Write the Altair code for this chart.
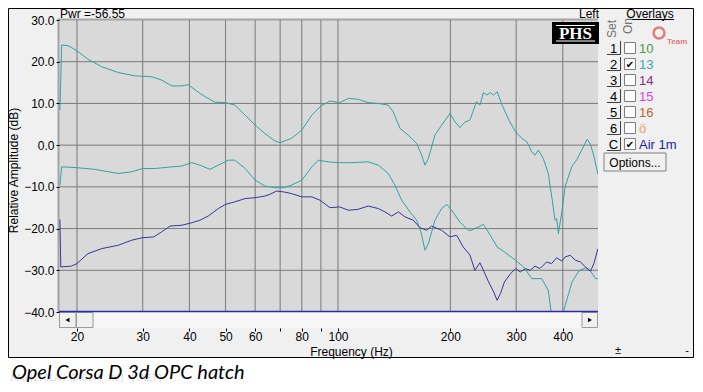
import altair as alt
import pandas as pd

# ---------------- data ----------------
A_FREQ = [18.0, 18.2, 19.0, 20.0, 21.4, 23.3, 25.8, 28.6, 31.7, 33.7, 35.9, 38.2, 39.7, 42.7, 44.1, 46.8,
          50.0, 52.9, 56.4, 60.0, 63.7, 67.8, 70.0, 75.0, 80.0, 85.1, 90.0, 95.2, 101, 106.6, 113, 120.5,
          128.2, 136.3, 140.6, 146.6, 154.3, 162.5, 167.5, 171, 174.6, 181.8, 189.5, 199.6, 205.8, 212,
          218.6, 225.5, 235, 240, 245.2, 250.5, 255.8, 261.3, 266.8, 275.2, 286.9, 298.9, 311.1, 320.6,
          330.4, 337, 344, 354.7, 365.8, 374.9, 381.3, 385.2, 389.3, 397.6, 406, 423.5, 436.8, 450.6,
          464.8, 474.5, 484.5, 496.8]
A_DB = [8.4, 24.0, 23.8, 22.6, 20.6, 18.8, 17.4, 16.6, 16.4, 15.6, 14.2, 14.2, 14.5, 12.4, 11.6, 10.3,
        10.2, 9.6, 7.2, 4.8, 2.8, 1.0, 0.6, 1.6, 3.6, 7.2, 9.4, 10.6, 10.2, 11.2, 11.0, 10.2,
        10.0, 9.6, 8.0, 4.0, 2.4, 0.4, -2.4, -4.8, -3.2, 2.4, 4.8, 7.6, 5.6, 4.2,
        5.5, 6.0, 10.4, 9.6, 12.6, 12.0, 12.6, 12.0, 12.8, 9.6, 6.0, 3.2, 1.6, 0.8,
        -1.6, -2.4, -1.2, -3.2, -6.8, -13.2, -18.0, -17.6, -21.2, -16.0, -9.8, -5.0, -3.4, -1.0,
        1.4, 0.2, -2.6, -7.0]

B_FREQ = [18.0, 18.2, 20.0, 22.3, 25.8, 28.0, 30.0, 32.4, 35.9, 38.2, 40.6, 42.7, 45.4, 47.8, 50.9,
          52.9, 56.4, 60.0, 63.7, 67.8, 71.4, 75.0, 80.0, 85.1, 88.6, 94.2, 101, 108.8, 120.5, 128.2,
          136.3, 142.1, 148.1, 155.9, 162.5, 166.8, 171, 174.6, 181.8, 189.5, 195.6, 201.6, 212, 223.2,
          227.8, 245.2, 255.8, 266.8, 279.1, 298.9, 314.3, 330.4, 351.1, 365.8, 371.8, 380, 392, 400.8,
          406, 423.5, 441.3, 460, 474.5, 489.6, 496.8]
B_DB = [-9.6, -5.2, -5.4, -5.8, -6.8, -6.4, -5.6, -5.6, -5.2, -5.0, -4.2, -4.8, -5.8, -4.8, -3.6,
        -3.6, -5.6, -8.4, -9.8, -10.2, -10.2, -9.6, -8.4, -5.2, -3.6, -4.0, -4.2, -4.2, -4.0, -4.8,
        -6.8, -9.6, -13.2, -16.0, -18.0, -20.8, -25.2, -23.6, -18.0, -15.2, -14.2, -15.6, -18.4, -20.4,
        -20.4, -19.0, -21.6, -24.4, -25.6, -27.6, -29.2, -32.0, -32.0, -34.8, -39.6, -44.0, -44.0, -40.2,
        -38.4, -32.8, -30.2, -29.4, -30.2, -32.0, -32.0]

C_FREQ = [18.0, 18.1, 19.3, 20.0, 21.4, 23.3, 25.8, 28.0, 29.9, 32.1, 33.7, 35.5, 38.2, 40.6, 42.7,
          44.9, 47.8, 50.0, 52.9, 56.4, 60.0, 63.7, 65.7, 68.5, 71.4, 75.0, 80.0, 85.1, 89.5, 95.2,
          101, 106.6, 113, 120.5, 128.2, 133.6, 139.2, 145.1, 151.2, 159.1, 165.9, 172.8, 178.1, 189.5,
          199.6, 207.9, 216.4, 225.5, 232.6, 240, 245.2, 253.1, 261.3, 266.8, 272.3, 279.1, 289.9, 298.9,
          308, 317.4, 327, 337, 347.5, 362.1, 373.2, 385.2, 397.6, 406, 419, 432.3, 446, 460, 474.5,
          484.5, 496.8]
C_DB = [-17.8, -29.2, -29.0, -28.4, -26.0, -24.8, -24.0, -22.8, -22.2, -22.0, -20.8, -19.4, -19.2, -18.6, -18.0,
        -17.0, -15.2, -14.2, -13.6, -12.8, -12.6, -12.2, -11.8, -11.0, -11.2, -11.6, -12.4, -12.4, -13.2, -15.0,
        -14.8, -15.6, -15.4, -14.6, -15.2, -16.0, -17.0, -16.0, -17.2, -18.0, -19.8, -20.4, -19.4, -20.4,
        -22.0, -21.6, -24.4, -26.3, -30.0, -28.2, -30.0, -32.8, -35.2, -37.2, -35.6, -32.8, -30.8, -29.6,
        -30.4, -29.6, -30.0, -29.0, -29.6, -28.0, -28.4, -27.0, -27.8, -26.8, -26.4, -27.6, -28.0, -29.2, -30.2,
        -28.4, -24.8]

X_TICKS = [20, 30, 40, 50, 60, 70, 80, 90, 100, 200, 300, 400]
X_DOMAIN = [17.9, 497]
Y_TICKS = [-40, -30, -20, -10, 0, 10, 20, 30]
Y_DOMAIN = [-40, 30]
Y_GRID = [-30, -20, -10, 0, 10, 20]

LEG_SET = ["1", "2", "3", "4", "5", "6", "C"]
LEG_NAME = ["10", "13", "14", "15", "16", "ö", "Air 1m"]
LEG_ON = [False, True, False, False, False, False, True]
LEG_COLOR = ["#4a9a4a", "#3aa6b0", "#8e2a8e", "#e040e0", "#b0692a", "#f09a6a", "#1c1ca6"]

PWR_TEXT = "Pwr =-56.55"
CHANNEL_TEXT = "Left"
OVERLAY_TITLE = "Overlays"
OPTIONS_TEXT = "Options..."
LOGO_TEXT = "PHS"
X_TITLE = "Frequency (Hz)"
Y_TITLE = "Relative Amplitude (dB)"
CAPTION = "Opel Corsa D 3d OPC hatch"
WATERMARK = "MAGNITOLAH.ORG] [.RU] [.NET]"

TEAL = "#2ea5a0"
BLUE = "#35359e"

# ---------------- layout ----------------
W, H = 539, 292
PAD = {"left": 51, "top": 12, "right": 96, "bottom": 71}
FONT = "Liberation Sans"
ONE = pd.DataFrame({"k": [0]})

xscale = alt.Scale(type="log", domain=X_DOMAIN, nice=False)
yscale = alt.Scale(domain=Y_DOMAIN, nice=False, zero=False)

xaxis = alt.Axis(values=X_TICKS, format="d",
                 labelExpr="datum.value == 70 || datum.value == 90 ? '' : datum.label",
                 offset=16, tickSize=3, labelPadding=0, domain=False, grid=False,
                 tickColor="black", labelColor="black", labelFont=FONT, labelFontSize=12,
                 labelFlush=False, labelOverlap=False, zindex=2,
                 title=X_TITLE, titleFont=FONT, titleFontSize=12, titleFontWeight="normal",
                 titleColor="black", titleX=292, titleY=23, titleAlign="center", titleBaseline="middle")
yaxis = alt.Axis(values=Y_TICKS, format=".1f", tickSize=3, labelPadding=2, domain=False, grid=False,
                 tickColor="black", labelColor="black", labelFont=FONT, labelFontSize=12,
                 labelFlush=False, labelOverlap=False, zindex=2,
                 title=Y_TITLE, titleFont=FONT, titleFontSize=12, titleFontWeight="normal",
                 titleColor="black", titleAngle=270, titleX=-46, titleY=150,
                 titleAlign="center", titleBaseline="middle")


def rect(x1, x2, y1, y2, fill, stroke=None, sw=1):
    kw = {"fill": fill}
    if stroke:
        kw.update(stroke=stroke, strokeWidth=sw)
    else:
        kw.update(strokeWidth=0)
    return alt.Chart(ONE).mark_rect(**kw).encode(
        x=alt.value(x1), x2=alt.value(x2), y=alt.value(y1), y2=alt.value(y2))


def hline(x1, x2, y, color, sw=1):
    return alt.Chart(ONE).mark_rule(color=color, strokeWidth=sw).encode(
        x=alt.value(x1), x2=alt.value(x2), y=alt.value(y))


def vline(x, y1, y2, color, sw=1):
    return alt.Chart(ONE).mark_rule(color=color, strokeWidth=sw).encode(
        x=alt.value(x), y=alt.value(y1), y2=alt.value(y2))


def txt(s, x, y, size=12, color="black", align="left", baseline="alphabetic", font=FONT, **kw):
    return alt.Chart(ONE).mark_text(text=s, font=font, fontSize=size, color=color, align=align,
                                    baseline=baseline, **kw).encode(x=alt.value(x), y=alt.value(y))


def curve(freqs, dbs, color):
    df = pd.DataFrame({"f": freqs, "db": dbs})
    return alt.Chart(df).mark_line(color=color, strokeWidth=1, clip=True).encode(
        x=alt.X("f:Q", scale=xscale, axis=xaxis),
        y=alt.Y("db:Q", scale=yscale, axis=yaxis))


layers = []
# window panel
layers.append(rect(-50.5, 634.5, -11.5, 337.5, "#f0f0f0", "black", 1))
# plot background and frame
layers.append(rect(0, W, 0, H, "#d9d9d9"))
layers.append(rect(-1, W, -1.5, 0.5, "#a4a4a4"))
layers.append(rect(-1.5, 0.5, -1.5, H, "#a4a4a4"))

# grid
layers.append(alt.Chart(pd.DataFrame({"f": X_TICKS})).mark_rule(color="#7a7a7a", strokeWidth=1).encode(
    x=alt.X("f:Q", scale=xscale, axis=xaxis), y=alt.value(0), y2=alt.value(H)))
layers.append(alt.Chart(pd.DataFrame({"db": Y_GRID})).mark_rule(color="#7a7a7a", strokeWidth=1).encode(
    y=alt.Y("db:Q", scale=yscale, axis=yaxis), x=alt.value(0), x2=alt.value(W)))

# curves
layers.append(curve(A_FREQ, A_DB, TEAL))
layers.append(curve(B_FREQ, B_DB, TEAL))
layers.append(curve(C_FREQ, C_DB, BLUE))

# PHS logo
layers.append(rect(493, 540, 2, 24, "black"))
layers.append(txt(LOGO_TEXT, 516.5, 19, size=17, color="white", align="center",
                  font="Liberation Serif", fontWeight="bold"))
layers.append(hline(497, 536, 5.5, "white", 1))
layers.append(hline(497, 536, 21, "white", 1))

# scrollbar
layers.append(rect(0, W, 292, 308, "#f6f6f6"))
layers.append(rect(0.5, 17, 292.5, 307.5, "#f0f0f0", "#9a9a9a"))
layers.append(rect(17.5, 34, 292.5, 307.5, "#f0f0f0", "#9a9a9a"))
layers.append(rect(523, 538.5, 292.5, 307.5, "#f0f0f0", "#9a9a9a"))
layers.append(alt.Chart(ONE).mark_point(shape="triangle-left", filled=True, color="black", size=22, opacity=1)
              .encode(x=alt.value(8.5), y=alt.value(300)))
layers.append(alt.Chart(ONE).mark_point(shape="triangle-right", filled=True, color="black", size=22, opacity=1)
              .encode(x=alt.value(531), y=alt.value(300)))
layers.append(hline(0, W, 291.5, "#2b2bb0", 1.6))

# header texts
layers.append(txt(PWR_TEXT, 1, -2.5))
layers.append(txt(CHANNEL_TEXT, 540, -2.5, align="right"))

# overlay panel
layers.append(txt(OVERLAY_TITLE, 591, -2.5, align="center"))
layers.append(hline(567, 615, -0.5, "black", 1))
layers.append(txt("Set", 553, 9, size=12, color="#707070", align="center", baseline="middle", angle=270))
layers.append(txt("On", 569, 6, size=12, color="#707070", align="center", baseline="middle", angle=270))
# faint watermark logo
layers.append(alt.Chart(ONE).mark_point(shape="circle", filled=False, color="#e06060", size=120,
                                        strokeWidth=2.5, opacity=0.8)
              .encode(x=alt.value(600), y=alt.value(13)))
layers.append(txt("Team", 608, 24, size=8, color="#e08080", fontWeight="bold"))

for i, (s, name, on, col) in enumerate(zip(LEG_SET, LEG_NAME, LEG_ON, LEG_COLOR)):
    cy = 28 + 16 * i
    layers.append(rect(548, 561, cy - 7, cy + 6, "#f0f0f0"))
    layers.append(hline(548, 561.5, cy + 6.5, "#404040", 1))
    layers.append(vline(561.5, cy - 7, cy + 6.5, "#404040", 1))
    layers.append(hline(548, 561, cy - 6.5, "white", 1))
    layers.append(txt(s, 554.5, cy + 5, size=13, align="center"))
    layers.append(rect(565.5, 576.5, cy - 5.5, cy + 5.5, "white", "#808080", 1))
    if on:
        layers.append(txt("✔", 571, cy + 4, size=10, align="center", font="DejaVu Sans"))
    layers.append(txt(name, 580, cy + 5, size=13, color=col))

# options button
layers.append(rect(545, 607, 133, 151, "#f0f0f0", "#808080", 1))
layers.append(txt(OPTIONS_TEXT, 576, 146.5, size=12, align="center"))

# tiny corner icons
layers.append(txt("±", 559, 334, size=11, align="center"))
layers.append(txt("-", 628, 334, size=11, align="center"))

# caption below the window
layers.append(txt(WATERMARK, -48, 360.5, size=9, color="#d8d8d8", font="DejaVu Sans Mono"))
layers.append(txt(CAPTION, -47, 359, size=20, color="black", font="Lato", fontStyle="italic"))

chart = alt.layer(*layers).properties(
    width=W, height=H, padding=PAD,
    autosize=alt.AutoSizeParams(type="none"),
    background="white",
).configure_view(stroke=None, fill=None)

chart.save("out.html", embed_options={"renderer": "svg", "actions": False})
